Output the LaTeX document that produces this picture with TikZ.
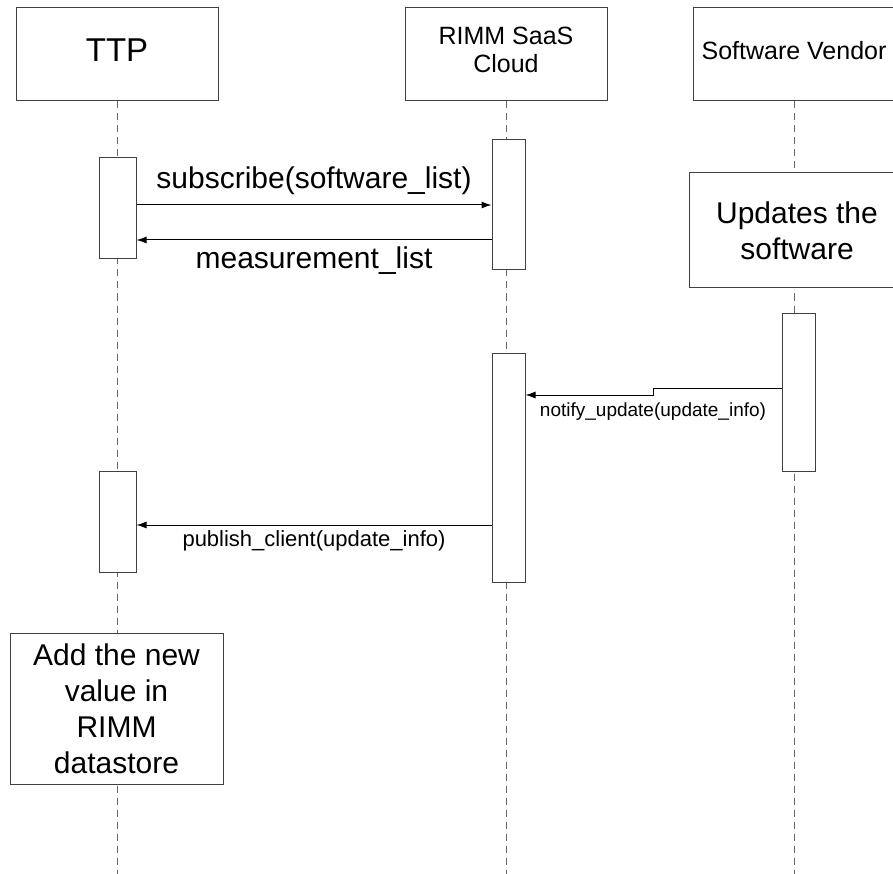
\documentclass[tikz,border=0pt]{standalone}
\usepackage{fontspec}
\setmainfont{Liberation Sans}
\usetikzlibrary{arrows.meta,positioning}

\tikzset{
  head/.style={draw=black!75, fill=white, minimum width=202pt, minimum height=93pt, inner sep=0pt, align=center, text depth=9pt},
  bar/.style={draw=black!75, fill=white, minimum width=33pt, inner sep=0pt},
  note/.style={draw=black!75, fill=white, inner sep=0pt, align=center},
  life/.style={draw=black!60, dash pattern=on 7pt off 5pt},
  msg/.style={draw=black, -{Latex[length=10pt,width=7pt]}},
  big/.style={font=\fontsize{30}{36}\selectfont},
  mid/.style={font=\fontsize{25}{28}\selectfont},
  small/.style={font=\fontsize{19}{22}\selectfont},
}

\begin{document}
\begin{tikzpicture}[x=1pt,y=-1pt,line width=1pt]
\useasboundingbox (0,0) rectangle (893,874);
% lanes
\node[head, font=\fontsize{33}{38}\selectfont] (ttp) at (117,54.5) {TTP};
\node[head, mid] (rimm) at (506,54.5) {RIMM SaaS\\Cloud};
\node[head, mid] (vendor) at (794,54.5) {Software Vendor};
\draw[life] (ttp.south) -- (ttp.south |- 0,874);
\draw[life] (rimm.south) -- (rimm.south |- 0,874);
\draw[life] (vendor.south) -- (vendor.south |- 0,874);

% activations and notes
\node[bar, minimum width=37pt, minimum height=101pt] (ttp1) at (117.5,208.5) {};
\node[bar, minimum height=130pt] (rimm1) at (508.5,205) {};
\node[note, big, minimum width=216pt, minimum height=115pt] (upd) at (797,230.5) {Updates the\\software};
\node[bar, minimum height=158pt] (vend1) at (798.5,392) {};
\node[bar, minimum height=229pt] (rimm2) at (508.5,467.5) {};
\node[bar, minimum width=37pt, minimum height=101pt] (ttp2) at (117.5,521.5) {};
\node[note, big, minimum width=213pt, minimum height=151pt] (store) at (116.5,708.5) {Add the new\\value in\\RIMM\\datastore};

% messages
\draw[msg] (ttp1.east |- 0,205) -- node[big, above=6pt] {subscribe(software\_list)} (rimm1.west |- 0,205);
\draw[msg] (rimm1.west |- 0,240) -- node[big, below=3pt] {measurement\_list} (ttp1.east |- 0,240);
\draw[msg] (vend1.west |- 0,388) -- (653,388) -- (653,395)
  -- node[small, pos=0, below=4pt] {notify\_update(update\_info)} (rimm2.east |- 0,395);
\draw[msg] (rimm2.west |- 0,525) -- node[font=\fontsize{22}{26}\selectfont, below=2pt] {publish\_client(update\_info)} (ttp2.east |- 0,525);
\end{tikzpicture}
\end{document}
